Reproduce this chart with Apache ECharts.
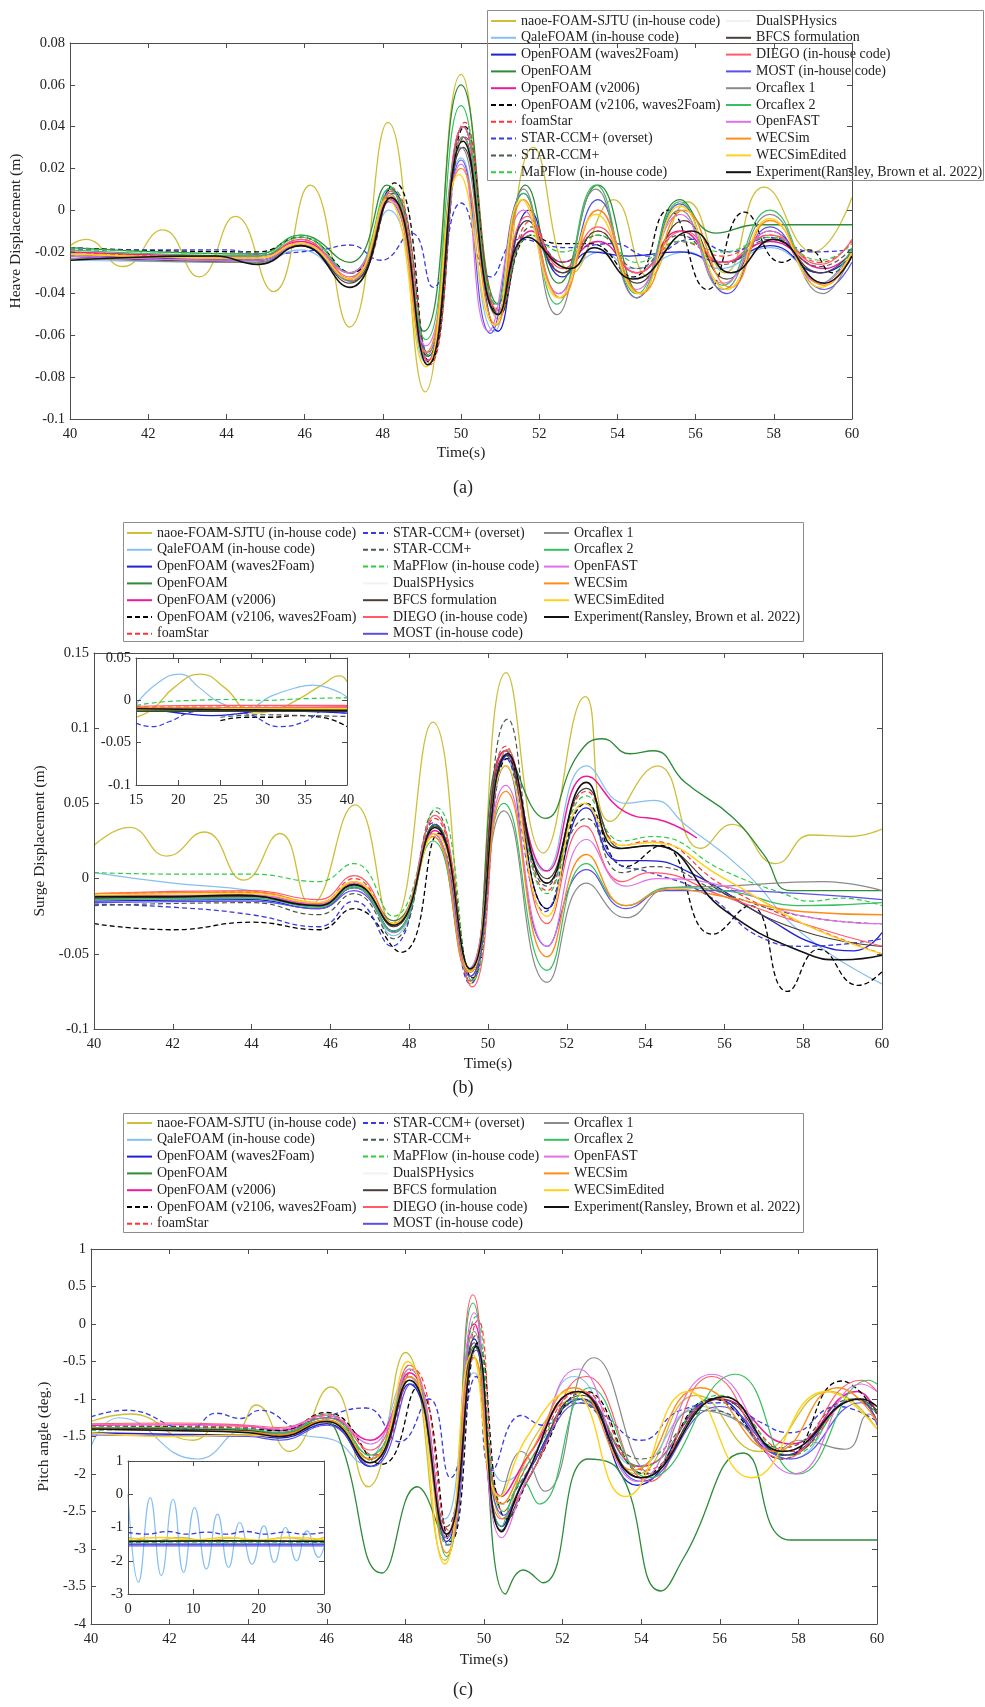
<!DOCTYPE html>
<html>
<head>
<meta charset="utf-8">
<script src="https://cdn.jsdelivr.net/npm/echarts@6/dist/echarts.min.js"></script>
<style>
html, body { margin: 0; padding: 0; background: #fff; }
#chart { width: 985px; height: 1707px; }
</style>
</head>
<body>
<div id="chart"></div>
<script>
var seriesNames = ['naoe-FOAM-SJTU (in-house code)', 'QaleFOAM (in-house code)', 'OpenFOAM (waves2Foam)', 'OpenFOAM',
  'OpenFOAM (v2006)', 'OpenFOAM (v2106, waves2Foam)', 'foamStar', 'STAR-CCM+ (overset)', 'STAR-CCM+',
  'MaPFlow (in-house code)', 'DualSPHysics', 'BFCS formulation', 'DIEGO (in-house code)', 'MOST (in-house code)',
  'Orcaflex 1', 'Orcaflex 2', 'OpenFAST', 'WECSim', 'WECSimEdited', 'Experiment(Ransley, Brown et al. 2022)'];
var seriesColors = ['#cdbf3a', '#86bff0', '#1f1fd6', '#2f8a3a', '#ee1a9c', '#000000', '#ff3333', '#3a3ae0', '#4a5a4a',
  '#2ecc40', '#f2f2f2', '#4a3f3a', '#ff5a6a', '#5a50e6', '#8a8a8a', '#36c060', '#e070e8', '#ff8c1a', '#ffd21a', '#111111'];
var seriesDashed = [0, 0, 0, 0, 0, 1, 1, 1, 1, 1, 0, 0, 0, 0, 0, 0, 0, 0, 0, 0];
var seriesWidth = [1.3, 1.2, 1.3, 1.3, 1.5, 1.3, 1.2, 1.3, 1.2, 1.2, 1, 1.2, 1.2, 1.2, 1.2, 1.2, 1.2, 1.4, 1.4, 1.6];

// (a) heave, [time, m]
var heave = [
  [[40,-0.017],[40.4,-0.014],[41.35,-0.027],[42.37,-0.0095],[43.3,-0.032],[44.23,-0.003],[45.2,-0.039],[46.14,0.012],[47.15,-0.056],[48.13,0.042],[49.08,-0.087],[50.0,0.065],[50.95,-0.052],[51.85,0.03],[52.85,-0.03],[53.9,0.005],[54.8,-0.032],[55.8,0.004],[56.75,-0.03],[57.75,0.011],[59.0,-0.02],[60,0.006]],
  [[40,-0.024],[44.8,-0.025],[45.9,-0.019],[47.1,-0.033],[48.15,0.0],[49.1,-0.073],[50.0,0.025],[50.85,-0.058],[51.7,-0.005],[52.6,-0.03],[53.6,-0.02],[54.4,-0.028],[55.8,-0.02],[56.6,-0.028],[57.9,-0.018],[59.2,-0.03],[60,-0.022]],
  [[40,-0.021],[44.8,-0.024],[45.9,-0.016],[47.15,-0.033],[48.2,0.01],[49.15,-0.072],[50.05,0.04],[50.95,-0.058],[51.75,0.0],[52.6,-0.032],[53.3,-0.02],[54.3,-0.022],[55.6,-0.02],[56.7,-0.025],[57.9,-0.017],[59.2,-0.03],[60,-0.022]],
  [[40,-0.018],[44.8,-0.021],[45.9,-0.012],[47.15,-0.025],[48.1,0.012],[49.05,-0.058],[50.0,0.06],[50.95,-0.045],[51.65,0.012],[52.5,-0.035],[53.5,0.012],[54.6,-0.04],[55.6,0.005],[56.5,-0.011],[57.6,-0.007],[60,-0.007]],
  [[40,-0.02],[44.8,-0.022],[45.9,-0.015],[47.15,-0.03],[48.2,0.005],[49.15,-0.072],[50.05,0.035],[50.95,-0.05],[51.8,-0.01],[52.6,-0.025],[53.5,-0.015],[54.5,-0.03],[55.6,-0.01],[56.7,-0.025],[57.9,-0.015],[59.3,-0.028],[60,-0.02]],
  [[40,-0.018],[44.8,-0.02],[45.9,-0.013],[47.2,-0.03],[48.3,0.013],[49.2,-0.073],[50.1,0.04],[51.0,-0.05],[51.8,-0.012],[52.5,-0.016],[53.3,-0.016],[54.4,-0.032],[55.3,0.0],[56.3,-0.038],[57.25,-0.001],[58.2,-0.025],[58.9,-0.019],[59.5,-0.03],[60,-0.02]],
  [[40,-0.02],[44.8,-0.023],[45.9,-0.014],[47.2,-0.034],[48.25,0.01],[49.2,-0.074],[50.1,0.042],[51.0,-0.048],[51.8,-0.005],[52.6,-0.03],[53.5,-0.01],[54.5,-0.03],[55.6,-0.015],[56.7,-0.022],[57.9,-0.012],[59.2,-0.025],[60,-0.015]],
  [[40,-0.019],[44,-0.019],[44.8,-0.021],[46.4,-0.019],[47.15,-0.0167],[47.95,-0.024],[48.73,-0.011],[49.29,-0.037],[50.0,0.0034],[50.76,-0.032],[51.5,-0.014],[52.7,-0.018],[53.9,-0.016],[54.8,-0.022],[55.9,-0.014],[56.9,-0.02],[57.9,-0.013],[59.0,-0.02],[60,-0.019]],
  [[40,-0.022],[44.8,-0.024],[45.9,-0.016],[47.2,-0.034],[48.25,0.008],[49.2,-0.07],[50.1,0.035],[51.0,-0.05],[51.8,-0.008],[52.6,-0.025],[53.5,-0.012],[54.5,-0.028],[55.6,-0.012],[56.7,-0.026],[57.9,-0.014],[59.2,-0.027],[60,-0.018]],
  [[40,-0.018],[44.8,-0.021],[45.9,-0.012],[47.15,-0.03],[48.2,0.011],[49.15,-0.07],[50.05,0.035],[50.95,-0.05],[51.8,-0.012],[52.6,-0.02],[53.5,-0.012],[54.5,-0.025],[55.6,-0.015],[56.7,-0.02],[57.9,-0.013],[59.2,-0.024],[60,-0.016]],
  [],
  [[40,-0.022],[44.8,-0.025],[45.9,-0.017],[47.15,-0.035],[48.2,0.006],[49.15,-0.07],[50.05,0.03],[50.95,-0.05],[51.7,-0.005],[52.6,-0.03],[53.5,-0.01],[54.5,-0.035],[55.7,-0.005],[56.8,-0.033],[57.9,-0.01],[59.2,-0.03],[60,-0.02]],
  [[40,-0.021],[44.8,-0.023],[45.9,-0.014],[47.15,-0.032],[48.2,0.009],[49.15,-0.072],[50.05,0.04],[50.95,-0.048],[51.7,-0.003],[52.6,-0.028],[53.5,-0.008],[54.5,-0.03],[55.7,-0.01],[56.7,-0.025],[57.9,-0.012],[59.2,-0.026],[60,-0.014]],
  [[40,-0.022],[44.8,-0.024],[45.9,-0.017],[47.15,-0.033],[48.15,0.004],[49.15,-0.068],[50.0,0.024],[50.75,-0.059],[51.6,0.008],[52.5,-0.04],[53.5,0.005],[54.5,-0.042],[55.6,0.003],[56.8,-0.04],[57.9,-0.008],[59.3,-0.038],[60,-0.025]],
  [[40,-0.023],[44.8,-0.025],[45.9,-0.016],[47.15,-0.034],[48.15,0.008],[49.1,-0.07],[50.0,0.03],[50.9,-0.05],[51.6,0.01],[52.45,-0.05],[53.45,0.01],[54.5,-0.042],[55.6,0.0],[56.7,-0.038],[57.9,-0.002],[59.25,-0.04],[60,-0.02]],
  [[40,-0.019],[44.8,-0.022],[45.9,-0.013],[47.15,-0.03],[48.15,0.01],[49.1,-0.062],[50.0,0.05],[50.9,-0.045],[51.6,0.008],[52.45,-0.045],[53.45,0.012],[54.5,-0.04],[55.6,0.004],[56.7,-0.036],[57.9,0.0],[59.2,-0.035],[60,-0.018]],
  [[40,-0.022],[44.8,-0.024],[45.9,-0.016],[47.15,-0.03],[48.15,0.005],[49.1,-0.065],[50.0,0.022],[50.7,-0.058],[51.6,0.0],[52.5,-0.04],[53.5,0.0],[54.5,-0.038],[55.6,-0.002],[56.7,-0.035],[57.9,-0.01],[59.2,-0.035],[60,-0.02]],
  [[40,-0.021],[44.8,-0.023],[45.9,-0.016],[47.15,-0.033],[48.15,0.007],[49.1,-0.068],[50.0,0.02],[50.9,-0.055],[51.6,0.005],[52.55,-0.042],[53.5,0.0],[54.6,-0.04],[55.7,0.0],[56.9,-0.037],[57.9,-0.005],[59.3,-0.036],[60,-0.02]],
  [[40,-0.021],[44.8,-0.023],[45.9,-0.016],[47.15,-0.033],[48.1,0.005],[49.1,-0.075],[49.95,0.017],[50.85,-0.055],[51.55,0.005],[52.5,-0.042],[53.45,-0.002],[54.55,-0.04],[55.6,0.002],[56.8,-0.038],[57.9,-0.004],[59.2,-0.037],[60,-0.02]],
  [[40,-0.024],[43.7,-0.022],[44.8,-0.026],[45.9,-0.017],[47.15,-0.037],[48.2,0.006],[49.15,-0.074],[50.05,0.033],[50.95,-0.05],[51.7,-0.013],[52.8,-0.028],[53.4,-0.018],[54.4,-0.033],[55.9,-0.01],[56.9,-0.03],[58.0,-0.014],[59.3,-0.035],[60,-0.022]]
];

// (b) surge, [time, m]
var surge = [
  [[40,0.022],[40.9,0.034],[41.85,0.015],[42.8,0.031],[43.8,-0.001],[44.72,0.03],[45.5,-0.017],[46.62,0.049],[47.55,-0.03],[48.6,0.104],[49.55,-0.07],[50.46,0.137],[51.4,0.017],[52.47,0.121],[53.1,0.038],[54.3,0.075],[55.4,0.02],[56.2,0.036],[57.3,0.01],[58.2,0.029],[59.2,0.028],[60,0.033]],
  [[40,0.004],[42,-0.003],[44,-0.008],[45.7,-0.018],[46.6,-0.006],[47.6,-0.038],[48.6,0.03],[49.55,-0.065],[50.45,0.08],[51.45,0.005],[52.5,0.075],[53.5,0.05],[54.2,0.052],[55.0,0.036],[56.5,0.005],[58.0,-0.037],[60,-0.07]],
  [[40,-0.015],[44,-0.014],[45.7,-0.02],[46.6,-0.006],[47.6,-0.035],[48.65,0.036],[49.55,-0.065],[50.5,0.082],[51.5,-0.02],[52.5,0.047],[53.3,0.012],[54.0,0.012],[55.2,0.003],[57.0,-0.025],[58.5,-0.045],[59.3,-0.048],[60,-0.036]],
  [[40,-0.013],[44,-0.012],[45.7,-0.017],[46.6,-0.004],[47.6,-0.028],[48.65,0.036],[49.55,-0.062],[50.45,0.085],[51.45,0.04],[52.3,0.083],[52.9,0.093],[53.6,0.083],[54.2,0.085],[55.0,0.064],[56.2,0.041],[57.0,0.016],[57.7,-0.008],[60,-0.008]],
  [[40,-0.012],[44,-0.011],[45.7,-0.017],[46.6,-0.003],[47.6,-0.03],[48.65,0.032],[49.55,-0.062],[50.45,0.085],[51.5,0.005],[52.5,0.068],[53.5,0.044],[54.5,0.038],[55.3,0.027]],
  [[40,-0.03],[42,-0.034],[44,-0.029],[45.7,-0.034],[46.6,-0.02],[47.8,-0.049],[48.75,0.03],[49.6,-0.066],[50.5,0.08],[51.5,-0.02],[52.5,0.05],[53.5,0.008],[54.4,0.022],[55.7,-0.037],[56.65,-0.018],[57.6,-0.075],[58.4,-0.047],[59.4,-0.071],[60,-0.062]],
  [[40,-0.01],[44,-0.009],[45.7,-0.016],[46.6,0.0],[47.6,-0.032],[48.65,0.04],[49.55,-0.068],[50.45,0.088],[51.5,-0.008],[52.5,0.058],[53.4,0.022],[54.1,0.025],[56.0,-0.005],[58.0,-0.03],[60,-0.05]],
  [[40,-0.017],[42,-0.019],[44,-0.024],[45.7,-0.032],[46.6,-0.015],[47.55,-0.045],[48.6,0.037],[49.55,-0.07],[50.45,0.08],[51.45,-0.022],[52.45,0.05],[53.3,0.01],[54.0,0.005],[55.5,-0.01],[57.0,-0.04],[58.0,-0.045],[60,-0.04]],
  [[40,-0.018],[44,-0.016],[45.7,-0.024],[46.6,-0.01],[47.6,-0.04],[48.65,0.045],[49.55,-0.068],[50.5,0.106],[51.5,-0.005],[52.5,0.04],[53.4,0.004],[54.2,0.008],[56.0,-0.01],[58.0,-0.025],[60,-0.03]],
  [[40,0.004],[42,0.003],[44,0.003],[45.7,-0.002],[46.6,0.01],[47.6,-0.025],[48.7,0.047],[49.6,-0.068],[50.5,0.085],[51.5,-0.01],[52.5,0.055],[53.4,0.025],[54.2,0.028],[56.0,0.005],[57.5,-0.01],[58.2,-0.015],[59.0,-0.013],[60,-0.018]],
  [],
  [[40,-0.013],[44,-0.012],[45.7,-0.018],[46.6,-0.004],[47.6,-0.032],[48.65,0.035],[49.55,-0.062],[50.45,0.082],[51.5,0.0],[52.5,0.06],[53.4,0.02],[54.1,0.022],[56.0,-0.01],[58.0,-0.035],[60,-0.045]],
  [[40,-0.01],[44,-0.008],[45.7,-0.014],[46.6,0.002],[47.6,-0.03],[48.65,0.042],[49.6,-0.072],[50.5,0.086],[51.5,-0.03],[52.45,0.035],[53.4,-0.002],[54.1,0.004],[56.0,-0.012],[58.0,-0.03],[60,-0.045]],
  [[40,-0.016],[44,-0.015],[45.7,-0.02],[46.6,-0.008],[47.6,-0.035],[48.6,0.03],[49.55,-0.065],[50.45,0.075],[51.5,-0.045],[52.5,0.006],[53.5,-0.02],[54.5,-0.008],[56.0,-0.008],[58.0,-0.01],[60,-0.014]],
  [[40,-0.014],[44,-0.013],[45.7,-0.019],[46.6,-0.006],[47.6,-0.036],[48.6,0.028],[49.5,-0.062],[50.4,0.045],[51.5,-0.069],[52.5,-0.003],[53.5,-0.026],[54.6,-0.006],[56.0,-0.005],[58.5,-0.002],[60,-0.008]],
  [[40,-0.014],[44,-0.013],[45.7,-0.019],[46.6,-0.005],[47.6,-0.035],[48.6,0.025],[49.5,-0.06],[50.4,0.05],[51.5,-0.061],[52.5,0.01],[53.5,-0.018],[54.6,-0.006],[56.0,-0.008],[58.0,-0.018],[60,-0.016]],
  [[40,-0.012],[44,-0.011],[45.7,-0.017],[46.6,-0.003],[47.6,-0.03],[48.6,0.03],[49.5,-0.06],[50.45,0.062],[51.5,-0.045],[52.5,0.026],[53.5,-0.005],[54.3,0.0],[56.0,-0.005],[58.0,-0.025],[60,-0.03]],
  [[40,-0.01],[44,-0.009],[45.7,-0.016],[46.6,-0.002],[47.6,-0.03],[48.6,0.028],[49.5,-0.062],[50.45,0.058],[51.5,-0.052],[52.5,0.016],[53.5,-0.018],[54.6,-0.007],[56.0,-0.012],[58.0,-0.022],[60,-0.024]],
  [[40,-0.011],[44,-0.01],[45.7,-0.016],[46.6,-0.002],[47.6,-0.03],[48.65,0.03],[49.55,-0.062],[50.45,0.075],[51.5,-0.025],[52.45,0.05],[53.4,0.022],[54.1,0.024],[56.0,0.0],[58.0,-0.03],[60,-0.05]],
  [[40,-0.012],[42,-0.012],[43.7,-0.011],[45.7,-0.018],[46.6,-0.004],[47.6,-0.031],[48.65,0.034],[49.55,-0.06],[50.5,0.083],[51.5,-0.003],[52.5,0.064],[53.3,0.02],[54.2,0.022],[56.0,-0.021],[58.0,-0.049],[59.0,-0.054],[60,-0.051]]
];

// (b) inset, [time, m]
var surgeInset = [
  [[15,-0.02],[17,-0.01],[19.5,0.015],[22.6,0.031],[25.5,0.015],[28.9,-0.015],[31,-0.013],[34,0.0],[37,0.018],[39.2,0.029],[40,0.022]],
  [[15,-0.005],[17.5,0.02],[20.2,0.031],[22.5,0.015],[25,-0.003],[28,-0.01],[31,0.005],[34,0.015],[36,0.018],[38.5,0.012],[40,0.004]],
  [[15,-0.008],[18,-0.012],[21,-0.016],[24,-0.018],[27,-0.016],[30,-0.012],[35,-0.013],[40,-0.015]],
  [[15,-0.012],[25,-0.012],[40,-0.011]],
  [[15,-0.01],[25,-0.009],[40,-0.008]],
  [[25,-0.024],[28,-0.02],[31,-0.02],[34,-0.018],[37,-0.02],[40,-0.031]],
  [[15,-0.008],[25,-0.008],[40,-0.009]],
  [[15,-0.027],[16.8,-0.031],[19,-0.025],[21.5,-0.014],[25,-0.01],[28.5,-0.017],[32,-0.031],[35,-0.025],[37.5,-0.012],[40,-0.016]],
  [[25,-0.02],[30,-0.017],[35,-0.018],[40,-0.019]],
  [[15,-0.006],[18,-0.002],[22,0.0],[26,0.001],[30,0.0],[35,0.002],[40,0.003]],
  [],
  [[15,-0.013],[25,-0.013],[40,-0.013]],
  [[15,-0.007],[25,-0.006],[40,-0.006]],
  [], [], [], [],
  [[15,-0.009],[25,-0.009],[40,-0.009]],
  [[15,-0.011],[25,-0.01],[40,-0.01]],
  [[15,-0.01],[25,-0.011],[40,-0.012]]
];

// (c) pitch, [time, deg]
var pitch = [
  [[40,-1.3],[41.0,-1.2],[42.6,-1.55],[43.3,-1.35],[43.7,-1.4],[44.2,-1.08],[45.05,-1.7],[46.1,-0.84],[47.05,-2.17],[48.0,-0.38],[49.0,-3.15],[49.75,-0.45],[50.5,-2.6],[51.3,-1.5],[52.4,-1.0],[53.9,-2.0],[55.4,-0.95],[57.0,-1.7],[58.8,-0.9],[60,-1.4]],
  [[40,-1.63],[40.7,-1.25],[42.7,-1.8],[44.0,-1.4],[45.6,-1.5],[46.2,-1.55],[46.9,-1.85],[48.05,-0.7],[49.0,-2.6],[49.75,-0.65],[50.5,-2.1],[51.2,-1.8],[52.3,-0.7],[53.9,-1.9],[55.5,-1.1],[56.5,-1.3],[57.8,-1.8],[59.5,-0.9],[60,-1.2]],
  [[40,-1.45],[42,-1.47],[44,-1.48],[44.8,-1.52],[46,-1.33],[47.1,-1.9],[48.1,-0.8],[49.05,-2.9],[49.75,-0.2],[50.45,-2.7],[51.1,-2.0],[52.5,-1.0],[53.9,-2.15],[55.9,-1.0],[57.6,-1.75],[59.5,-1.0],[60,-1.3]],
  [[40,-1.38],[42,-1.4],[44,-1.42],[44.8,-1.45],[45.9,-1.3],[46.3,-1.5],[47.4,-3.32],[48.3,-2.17],[49.0,-2.85],[49.75,-0.3],[50.55,-3.6],[51.0,-3.28],[51.5,-3.45],[52.65,-1.8],[53.4,-1.93],[54.5,-3.56],[55.1,-3.1],[56.6,-1.72],[57.8,-2.88],[60,-2.88]],
  [[40,-1.35],[42,-1.34],[44,-1.36],[44.8,-1.42],[46,-1.25],[47.1,-1.55],[48.1,-0.65],[49.05,-2.8],[49.75,0.0],[50.45,-2.3],[51.2,-1.7],[52.4,-0.9],[54.0,-1.9],[56.0,-1.0],[57.8,-1.6],[59.5,-0.9],[60,-1.2]],
  [[40,-1.38],[42,-1.37],[44,-1.4],[44.8,-1.42],[46,-1.18],[47.4,-1.87],[48.3,-0.85],[49.15,-2.9],[49.85,-0.25],[50.6,-2.6],[51.3,-1.9],[52.6,-0.9],[54.1,-2.0],[55.8,-1.0],[57.6,-1.8],[59.1,-0.76],[60,-1.2]],
  [[40,-1.36],[42,-1.36],[44,-1.38],[44.8,-1.4],[46,-1.2],[47.2,-1.75],[48.2,-0.6],[49.1,-2.75],[49.85,0.05],[50.5,-2.5],[51.2,-1.8],[52.5,-0.9],[54.1,-1.95],[56.0,-1.0],[57.8,-1.7],[59.5,-1.0],[60,-1.3]],
  [[40,-1.24],[40.9,-1.15],[42.5,-1.4],[43.2,-1.19],[43.8,-1.26],[44.3,-1.15],[45.4,-1.4],[46.2,-1.2],[47.0,-1.12],[47.85,-1.57],[48.6,-1.0],[49.15,-2.05],[49.8,-0.7],[50.2,-1.95],[50.95,-1.22],[51.5,-1.35],[52.3,-1.0],[53.0,-1.2],[54.0,-1.55],[55.0,-1.15],[56.2,-1.05],[57.0,-1.3],[57.8,-1.45],[59.0,-1.1],[60,-1.3]],
  [[40,-1.4],[42,-1.38],[44,-1.4],[44.8,-1.45],[46,-1.22],[47.1,-1.75],[48.1,-0.7],[49.05,-2.7],[49.8,-0.15],[50.5,-2.4],[51.2,-1.9],[52.4,-1.05],[54.0,-1.8],[55.8,-1.15],[57.6,-1.65],[59.4,-1.0],[60,-1.2]],
  [[40,-1.42],[42,-1.4],[44,-1.42],[44.8,-1.48],[46,-1.2],[47.1,-1.8],[48.1,-0.55],[49.05,-2.95],[49.8,0.1],[50.5,-2.5],[51.2,-1.8],[52.5,-1.0],[54.0,-1.9],[56.0,-0.95],[57.8,-1.75],[59.5,-1.0],[60,-1.2]],
  [],
  [[40,-1.38],[42,-1.4],[44,-1.42],[44.8,-1.47],[46,-1.28],[47.1,-1.8],[48.1,-0.75],[49.05,-2.85],[49.75,-0.25],[50.45,-2.75],[51.1,-2.1],[52.5,-0.95],[54.0,-2.05],[56.0,-1.0],[57.7,-1.75],[59.5,-1.0],[60,-1.15]],
  [[40,-1.33],[42,-1.32],[44,-1.35],[44.8,-1.38],[46,-1.22],[47.1,-1.68],[48.1,-0.55],[49.05,-2.8],[49.72,0.39],[50.45,-2.6],[51.3,-1.9],[52.6,-0.7],[54.2,-2.1],[55.8,-0.7],[57.6,-1.8],[59.6,-0.75],[60,-0.9]],
  [[40,-1.48],[42,-1.49],[44,-1.5],[44.8,-1.55],[46,-1.35],[47.15,-1.9],[48.15,-0.8],[49.1,-2.95],[49.8,-0.35],[50.5,-2.55],[51.3,-1.8],[52.5,-1.05],[54.0,-2.1],[56.0,-1.1],[57.8,-1.8],[59.6,-1.05],[60,-1.35]],
  [[40,-1.4],[42,-1.42],[44,-1.44],[44.8,-1.47],[46,-1.3],[47.1,-1.8],[48.1,-0.7],[49.05,-2.8],[49.75,-0.1],[50.4,-2.3],[50.95,-1.7],[51.55,-2.23],[52.8,-0.45],[54.3,-2.0],[55.3,-1.15],[56.3,-1.25],[57.4,-1.7],[58.0,-1.55],[59.2,-1.67],[59.8,-1.2],[60,-1.3]],
  [[40,-1.38],[42,-1.38],[44,-1.4],[44.8,-1.45],[46,-1.25],[47.1,-1.75],[48.1,-0.6],[49.05,-3.1],[49.72,0.28],[50.45,-2.7],[51.0,-2.1],[51.4,-2.4],[52.7,-0.85],[54.2,-2.05],[56.4,-0.67],[58.0,-2.0],[59.8,-0.75],[60,-0.8]],
  [[40,-1.34],[42,-1.34],[44,-1.36],[44.8,-1.4],[46,-1.22],[47.1,-1.6],[48.1,-0.6],[49.05,-2.85],[49.75,0.15],[50.45,-2.85],[51.2,-1.9],[52.4,-0.6],[53.9,-2.1],[55.8,-0.67],[57.9,-2.0],[59.6,-0.8],[60,-0.9]],
  [[40,-1.4],[42,-1.42],[44,-1.44],[44.8,-1.48],[46,-1.28],[47.1,-1.8],[48.1,-0.7],[49.05,-3.05],[49.75,-0.45],[50.45,-2.4],[51.2,-1.7],[52.3,-0.85],[53.8,-1.95],[55.5,-0.85],[57.4,-1.7],[59.0,-0.85],[60,-1.3]],
  [[40,-1.45],[42,-1.5],[44,-1.48],[44.8,-1.5],[46,-1.3],[47.1,-1.85],[48.05,-0.5],[49.0,-3.2],[49.7,-0.4],[50.4,-2.3],[51.1,-1.5],[52.2,-0.9],[53.6,-2.3],[55.2,-0.9],[56.8,-2.05],[58.7,-0.9],[60,-1.4]],
  [[40,-1.4],[42,-1.42],[44,-1.45],[44.8,-1.5],[46,-1.3],[47.1,-1.85],[48.1,-0.75],[49.05,-2.8],[49.8,-0.3],[50.45,-2.77],[51.0,-2.1],[52.4,-0.9],[54.0,-2.05],[56.1,-0.97],[57.6,-1.7],[59.6,-1.0],[60,-1.1]]
];

// (c) inset, [time, deg]
var pitchInset = [
  [[0,-1.3],[4,-1.4],[8,-1.3],[12,-1.4],[16,-1.32],[20,-1.4],[24,-1.3],[28,-1.38],[30,-1.3]],
  [[0,0.0],[1.6,-2.64],[3.4,-0.1],[5.1,-2.45],[6.9,-0.15],[8.5,-2.35],[10.2,-0.4],[12,-2.25],[13.7,-0.6],[15.4,-2.2],[17.1,-0.85],[19,-2.1],[20.8,-0.95],[22.4,-2.05],[24.1,-1.0],[25.8,-2.0],[27.4,-1.1],[29.2,-1.9],[30,-1.6]],
  [[0,-1.5],[30,-1.5]],
  [[0,-1.4],[15,-1.42],[30,-1.4]],
  [], [], [],
  [[0,-1.15],[3,-1.2],[6,-1.12],[9,-1.2],[12,-1.14],[15,-1.2],[18,-1.12],[21,-1.2],[24,-1.14],[27,-1.2],[30,-1.15]],
  [],
  [[0,-1.45],[15,-1.44],[30,-1.45]],
  [], [], [],
  [[0,-1.55],[30,-1.55]],
  [], [], [], [],
  [[0,-1.35],[5,-1.3],[10,-1.38],[15,-1.3],[20,-1.38],[25,-1.3],[30,-1.36]],
  [[0,-1.42],[15,-1.4],[30,-1.42]]
];

var FONT = 'Liberation Serif';
var AXIS = '#4d4d4d';

var panels = [
  { grid: { left: 67, top: 43, width: 785, height: 376 }, x: [40, 60, 2], y: [-0.1, 0.08, 0.02],
    xName: 'Time(s)', xGap: 26, yName: 'Heave Displacement (m)', yGap: 42, data: heave, inset: false },
  { grid: { left: 94, top: 653, width: 788, height: 376 }, x: [40, 60, 2], y: [-0.1, 0.15, 0.05],
    xName: 'Time(s)', xGap: 27, yName: 'Surge Displacement (m)', yGap: 43, data: surge, inset: false },
  { grid: { left: 91, top: 1249, width: 786, height: 375 }, x: [40, 60, 2], y: [-4, 1, 0.5],
    xName: 'Time(s)', xGap: 28, yName: 'Pitch angle (deg.)', yGap: 35, data: pitch, inset: false },
  { grid: { left: 136, top: 658, width: 211, height: 127 }, x: [15, 40, 5], y: [-0.1, 0.05, 0.05],
    data: surgeInset, inset: true },
  { grid: { left: 128, top: 1461, width: 196, height: 133 }, x: [0, 30, 10], y: [-3, 1, 1],
    data: pitchInset, inset: true }
];

var grids = [], xAxes = [], yAxes = [], series = [];
var labelStyle = { color: '#222', fontFamily: FONT, fontSize: 14.5 };
var nameStyle = { color: '#222', fontFamily: FONT, fontSize: 15.5 };

panels.forEach(function (p, gi) {
  var z = p.inset ? 20 : 2;
  grids.push(Object.assign({ show: p.inset, backgroundColor: '#fff', borderWidth: 0, z: p.inset ? 10 : 0 }, p.grid));
  var common = {
    gridIndex: gi, type: 'value', splitLine: { show: false }, z: z + 2,
    axisLine: { show: true, onZero: false, lineStyle: { color: AXIS, width: 1 } },
    axisTick: { show: true, inside: true, length: 5, lineStyle: { color: AXIS } }
  };
  xAxes.push(Object.assign({}, common, {
    position: 'bottom', min: p.x[0], max: p.x[1], interval: p.x[2],
    axisLabel: Object.assign({ margin: 8 }, labelStyle),
    name: p.xName || '', nameLocation: 'middle', nameGap: p.xGap || 0, nameTextStyle: nameStyle
  }));
  xAxes.push(Object.assign({}, common, {
    position: 'top', min: p.x[0], max: p.x[1], interval: p.x[2], axisLabel: { show: false }
  }));
  yAxes.push(Object.assign({}, common, {
    position: 'left', min: p.y[0], max: p.y[1], interval: p.y[2],
    axisLabel: Object.assign({ margin: 5 }, labelStyle),
    name: p.yName || '', nameLocation: 'middle', nameGap: p.yGap || 0, nameTextStyle: nameStyle
  }));
  yAxes.push(Object.assign({}, common, {
    position: 'right', min: p.y[0], max: p.y[1], interval: p.y[2], axisLabel: { show: false }
  }));

  p.data.forEach(function (d, si) {
    if (!p.inset || d.length) {
      series.push({
        name: seriesNames[si], type: 'line', xAxisIndex: gi * 2, yAxisIndex: gi * 2,
        data: d, symbol: 'none', showSymbol: false, smooth: 0.5, silent: true, z: z + (si === 19 ? 1 : 0),
        lineStyle: { color: seriesColors[si], width: seriesWidth[si], type: seriesDashed[si] ? [5, 3] : 'solid' },
        itemStyle: { color: seriesColors[si] },
        emphasis: { disabled: true }
      });
    }
  });
});

function legendCol(list, left, top) {
  return {
    orient: 'vertical', left: left, top: top, padding: 0, itemGap: 0, itemWidth: 25, itemHeight: 10,
    selectedMode: false, align: 'left', data: list,
    itemStyle: { opacity: 0 },
    textStyle: { color: '#222', fontFamily: FONT, fontSize: 14, lineHeight: 16.8 }
  };
}

var legends = [
  legendCol(seriesNames.slice(0, 10), 490, 12.6),
  legendCol(seriesNames.slice(10, 20), 725, 12.6),
  legendCol(seriesNames.slice(0, 7), 126, 524.6),
  legendCol(seriesNames.slice(7, 14), 362, 524.6),
  legendCol(seriesNames.slice(14, 20), 543, 524.6),
  legendCol(seriesNames.slice(0, 7), 126, 1114.6),
  legendCol(seriesNames.slice(7, 14), 362, 1114.6),
  legendCol(seriesNames.slice(14, 20), 543, 1114.6)
];

function boxRect(x, y, w, h) {
  return { type: 'rect', shape: { x: x, y: y, width: w, height: h }, z: 30,
    style: { fill: 'rgba(255,255,255,0)', stroke: '#8c8c8c', lineWidth: 1 }, silent: true };
}
function panelLabel(text, x, y) {
  return { type: 'text', x: x, y: y, z: 30, silent: true,
    style: { text: text, fill: '#222', font: '18px "Liberation Serif"', align: 'center', verticalAlign: 'middle' } };
}

var chart = echarts.init(document.getElementById('chart'));
chart.setOption({
  backgroundColor: '#fff',
  animation: false,
  grid: grids,
  xAxis: xAxes,
  yAxis: yAxes,
  legend: legends,
  series: series,
  graphic: [
    boxRect(487.5, 10.5, 496, 170),
    boxRect(123.5, 522.5, 680, 119),
    boxRect(123.5, 1113.5, 680, 119),
    panelLabel('(a)', 463, 488),
    panelLabel('(b)', 463, 1088),
    panelLabel('(c)', 463, 1690)
  ]
});
</script>
</body>
</html>
